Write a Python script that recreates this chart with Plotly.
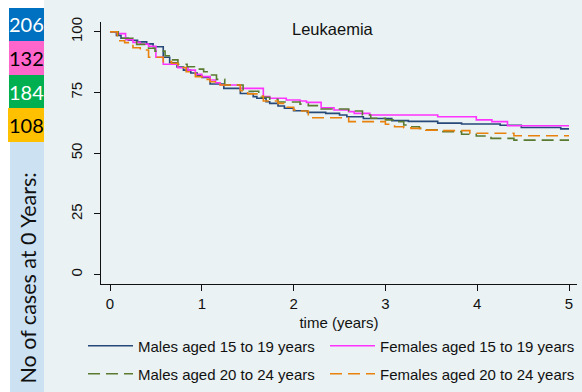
import plotly.graph_objects as go

# Kaplan-Meier survival (%) by sex and age group, Leukaemia
m1519_t = [0, 0.07, 0.12, 0.20, 0.30, 0.40, 0.47, 0.58, 0.65, 0.73, 0.80, 0.88, 0.95, 1.00,
           1.09, 1.24, 1.42, 1.56, 1.60, 1.70, 1.74, 1.83, 1.90, 2.00, 2.15, 2.35, 2.50,
           2.58, 2.76, 3.07, 3.25, 3.57, 3.83, 4.25, 4.48, 4.91, 5.00]
m1519_s = [100, 98.5, 97.3, 96.5, 95.8, 95.0, 93.8, 89.5, 87.2, 85.5, 84.2, 83.0, 82.0, 81.2,
           78.5, 76.7, 74.6, 73.3, 72.6, 71.2, 70.5, 69.4, 68.5, 67.5, 66.8, 66.4, 65.7,
           65.0, 64.3, 63.4, 63.1, 62.4, 62.0, 61.5, 60.6, 60.0, 60.0]

f1519_t = [0, 0.08, 0.17, 0.25, 0.33, 0.42, 0.50, 0.58, 0.74, 0.85, 0.93, 1.00, 1.09, 1.15,
           1.20, 1.42, 1.67, 1.74, 1.92, 2.07, 2.14, 2.30, 2.44, 2.60, 2.66, 2.83, 3.57,
           3.99, 4.16, 4.33, 5.00]
f1519_s = [100, 99.2, 96.7, 95.6, 94.9, 94.0, 89.5, 86.6, 85.2, 84.2, 82.5, 81.5, 80.1, 79.0,
           78.1, 76.7, 73.3, 72.6, 71.9, 71.5, 70.9, 68.7, 67.8, 67.1, 66.4, 65.7, 65.0,
           63.7, 63.0, 61.3, 61.3]

m2024_t = [0, 0.09, 0.25, 0.29, 0.42, 0.49, 0.60, 0.67, 0.74, 0.84, 0.92, 1.02, 1.09, 1.16,
           1.25, 1.45, 1.62, 1.74, 1.83, 2.07, 2.16, 2.30, 2.60, 2.75, 2.84, 3.00, 3.10,
           3.20, 3.25, 3.37, 3.42, 3.60, 3.83, 3.99, 4.15, 4.40, 5.00]
m2024_s = [100, 97.3, 96.6, 94.8, 93.2, 92.0, 90.1, 88.4, 86.6, 85.6, 84.6, 83.5, 82.2, 80.4,
           78.1, 75.5, 73.0, 72.2, 71.1, 70.2, 69.6, 68.2, 67.4, 65.7, 64.4, 63.7, 63.0,
           61.6, 60.9, 60.2, 59.6, 58.9, 57.8, 57.1, 56.1, 55.4, 55.4]

f2024_t = [0, 0.08, 0.16, 0.25, 0.33, 0.42, 0.58, 0.67, 0.74, 0.83, 0.93, 1.00, 1.09, 1.20,
           1.42, 1.50, 1.60, 1.67, 1.83, 1.92, 2.00, 2.07, 2.16, 2.60, 3.00, 3.10, 3.20,
           3.28, 3.44, 3.60, 3.92, 4.40, 5.00]
f2024_s = [100, 96.3, 95.5, 93.4, 92.5, 89.5, 87.7, 87.0, 85.3, 83.5, 81.5, 80.4, 79.4, 78.1,
           75.7, 74.4, 73.5, 71.5, 70.5, 68.9, 67.8, 67.4, 64.6, 63.0, 61.9, 60.9, 60.5,
           60.2, 59.5, 59.3, 58.2, 57.2, 57.2]

# (label, times, survival, colour, dash)
series = [
    ("Males aged 15 to 19 years", m1519_t, m1519_s, "#26497a", "solid"),
    ("Females aged 15 to 19 years", f1519_t, f1519_s, "#ff33ff", "solid"),
    ("Males aged 20 to 24 years", m2024_t, m2024_s, "#5a7a32", "12px,6px"),
    ("Females aged 20 to 24 years", f2024_t, f2024_s, "#e8820c", "12px,6px"),
]

cases_at_zero = ["206", "132", "184", "108"]
case_colors = ["#0070c0", "#ff66cc", "#00b050", "#ffc000"]
case_text_colors = ["white", "black", "white", "black"]

x_ticks = [0, 1, 2, 3, 4, 5]
y_ticks = [0, 25, 50, 75, 100]

W, H = 582, 392
ML, MR, MT, MB = 101, 5, 22, 108
PW, PH = W - ML - MR, H - MT - MB
BG = "#eaf2f3"


def px(x):
    return (x - ML) / PW


def py(y):
    return (H - MB - y) / PH


# one legend box per entry, laid out as a 2x2 key below the axis title
legend_ids = ["legend", "legend2", "legend3", "legend4"]
legend_xy = [(83, 346), (325, 346), (83, 374), (325, 374)]

fig = go.Figure()
for (name, t, s, col, dash), leg in zip(series, legend_ids):
    fig.add_trace(go.Scatter(
        x=t, y=s, mode="lines", name=name, line_shape="hv", legend=leg,
        line=dict(color=col, width=1.6, dash=dash),
    ))

axis_font = dict(family="Liberation Sans, Arial, sans-serif", size=15, color="#111111")

legend_layout = {
    leg: dict(orientation="h", x=px(lx), y=py(ly), xanchor="left", yanchor="middle",
              itemwidth=45, bgcolor="rgba(0,0,0,0)", font=axis_font)
    for leg, (lx, ly) in zip(legend_ids, legend_xy)
}

fig.update_layout(
    width=W, height=H,
    margin=dict(l=ML, r=MR, t=MT, b=MB, autoexpand=False),
    paper_bgcolor=BG, plot_bgcolor=BG,
    font=axis_font,
    xaxis=dict(range=[-0.098, 5.087], tickvals=x_ticks, showgrid=False, zeroline=False,
               showline=True, linecolor="#111111", linewidth=1.2,
               ticks="outside", ticklen=6, tickcolor="#111111",
               title=dict(text="time (years)", font=axis_font, standoff=6)),
    yaxis=dict(range=[-3.83, 104.0], tickvals=y_ticks, showgrid=False, zeroline=False,
               showline=True, linecolor="#111111", linewidth=1.2,
               ticks="outside", ticklen=6, tickcolor="#111111", tickangle=-90,
               ticklabelstandoff=6),
    showlegend=True,
    **legend_layout,
)

# Left strip: white base, counts boxes and caption
shapes = [dict(type="rect", xref="paper", yref="paper", x0=px(0), x1=px(44),
               y0=py(0), y1=py(H), fillcolor="white", line_width=0, layer="below")]
box_tops = [8, 41, 75, 108]
box_bottoms = [41, 75, 108, 142]
box_left = [9, 9, 9, 8]
annotations = []
for i, v in enumerate(cases_at_zero):
    shapes.append(dict(type="rect", xref="paper", yref="paper",
                       x0=px(box_left[i]), x1=px(44), y0=py(box_bottoms[i]), y1=py(box_tops[i]),
                       fillcolor=case_colors[i], line_width=0, layer="below"))
    annotations.append(dict(text=v, xref="paper", yref="paper",
                            x=px(26.5), y=py((box_tops[i] + box_bottoms[i]) / 2),
                            showarrow=False, xanchor="center", yanchor="middle",
                            font=dict(family="Lato, sans-serif", size=20, color=case_text_colors[i])))
shapes.append(dict(type="rect", xref="paper", yref="paper", x0=px(10), x1=px(44),
                   y0=py(H), y1=py(142), fillcolor="#cce1f1", line_width=0, layer="below"))
annotations.append(dict(text="No of cases at 0 Years:", xref="paper", yref="paper",
                        x=px(27.5), y=py(278), textangle=-90, showarrow=False,
                        xanchor="center", yanchor="middle",
                        font=dict(family="Lato, sans-serif", size=21.5, color="#111111")))
annotations.append(dict(text="Leukaemia", xref="paper", yref="paper",
                        x=px(332.5), y=py(29), showarrow=False,
                        xanchor="center", yanchor="middle",
                        font=dict(family="Liberation Sans, Arial, sans-serif", size=16.5, color="#111111")))
fig.update_layout(shapes=shapes, annotations=annotations)

fig.write_html("out.html")
